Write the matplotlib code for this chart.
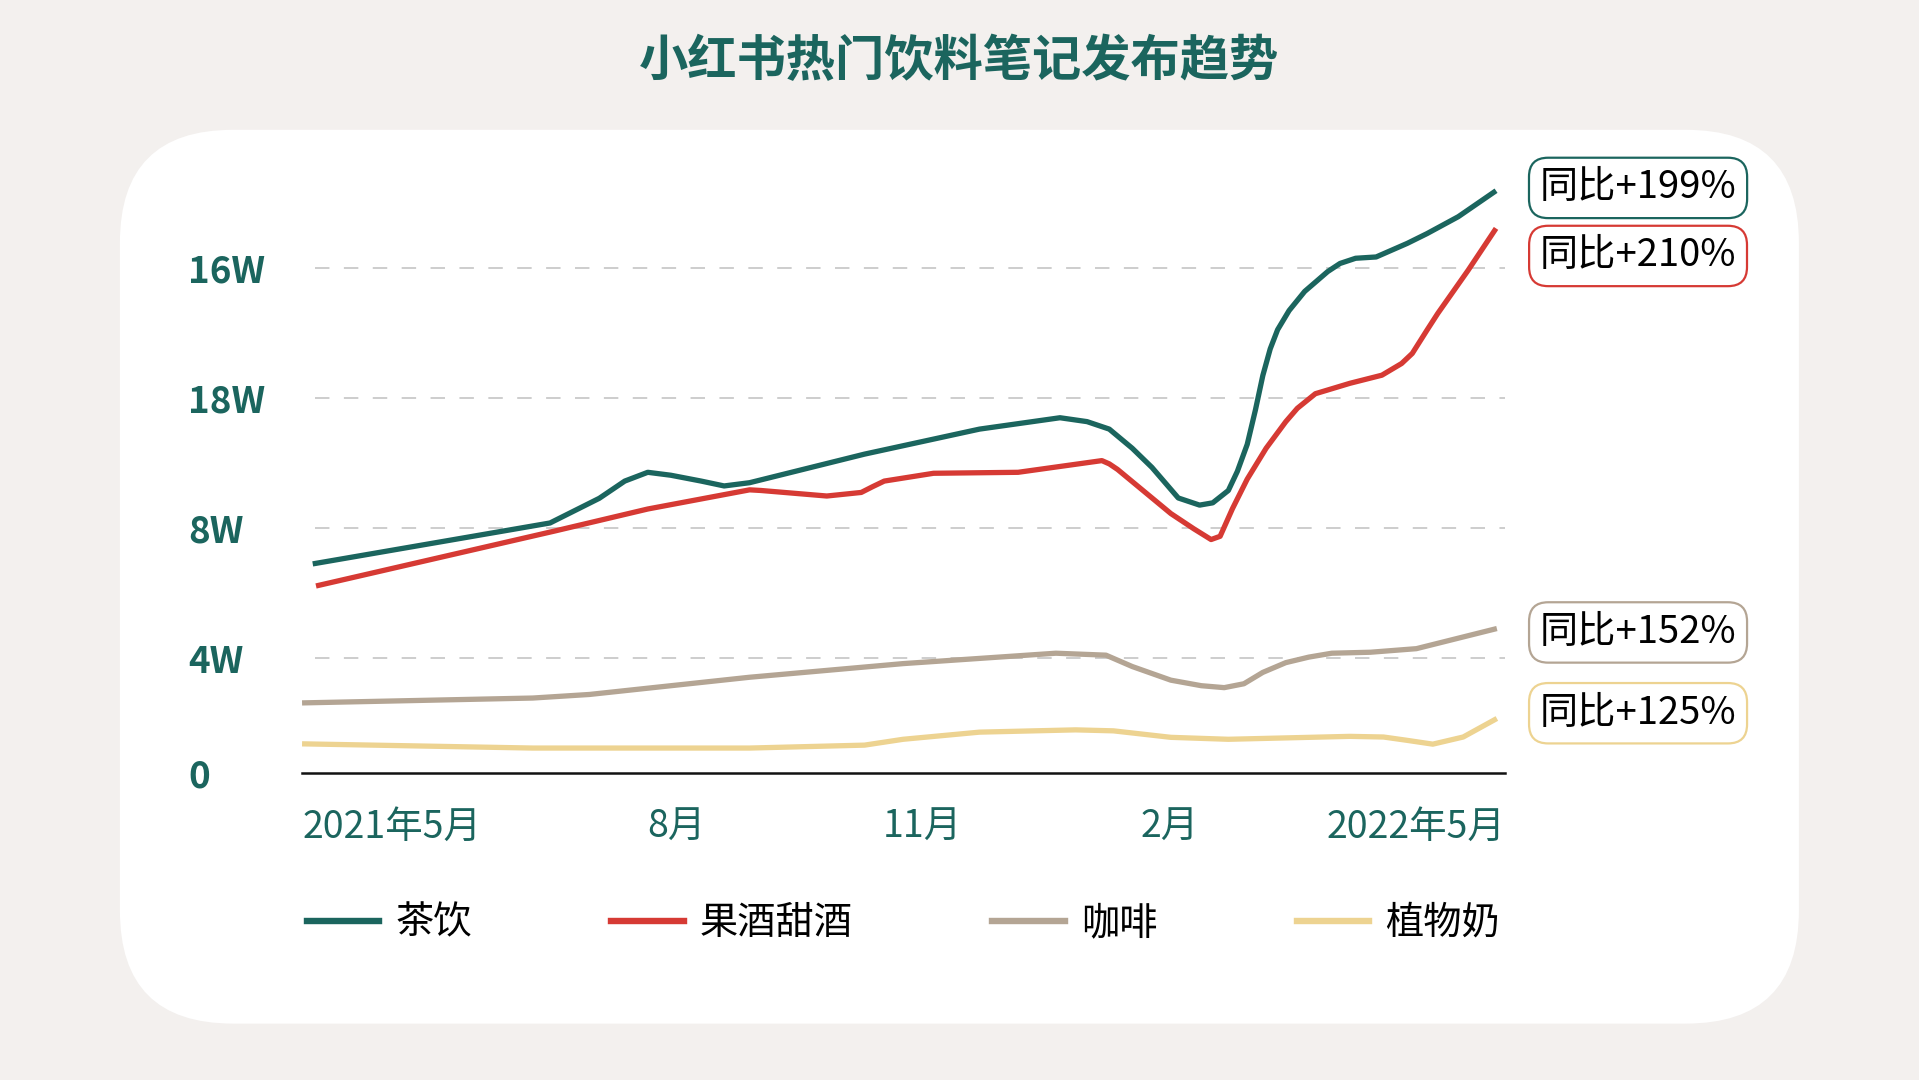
import matplotlib
matplotlib.use('Agg')
import matplotlib.pyplot as plt
from matplotlib.patches import FancyBboxPatch
from matplotlib.lines import Line2D

plt.rcParams['font.family'] = ['Noto Sans CJK SC', 'DejaVu Sans']

# Werte (x in Monaten ab 2021-05, y in W = 万)
tea_x = [-1.43, 1.46, 2.06, 2.37, 2.65, 2.93, 3.30, 3.58, 3.89, 5.29, 6.69, 7.67, 8.00,
         8.27, 8.55, 8.79, 9.11, 9.37, 9.53, 9.72, 9.83, 9.95, 10.05, 10.14, 10.23, 10.32,
         10.46, 10.65, 10.93, 11.08, 11.27, 11.52, 11.90, 12.14, 12.52, 12.98]
tea_y = [6.90, 8.16, 8.92, 9.45, 9.72, 9.63, 9.45, 9.30, 9.40, 10.28, 11.05, 11.40, 11.28,
         11.05, 10.46, 9.87, 8.93, 8.71, 8.78, 9.16, 9.75, 10.58, 11.64, 12.70, 13.52, 14.11,
         14.70, 15.29, 15.90, 16.15, 16.31, 16.35, 16.77, 17.07, 17.59, 18.39]

fruit_x = [-1.39, 1.53, 2.65, 3.89, 4.03, 4.83, 5.25, 5.39, 5.53, 6.13, 7.16, 8.18, 8.27,
           8.37, 9.02, 9.30, 9.51, 9.62, 9.77, 9.95, 10.18, 10.42, 10.56, 10.78, 11.20,
           11.59, 11.83, 11.96, 12.14, 12.27, 12.64, 12.98]
fruit_y = [6.22, 7.92, 8.59, 9.18, 9.16, 8.99, 9.10, 9.28, 9.45, 9.69, 9.72, 10.08, 9.98,
           9.81, 8.45, 7.98, 7.65, 7.75, 8.60, 9.51, 10.46, 11.28, 11.69, 12.14, 12.46,
           12.71, 13.07, 13.38, 14.10, 14.61, 15.94, 17.23]

coffee_x = [-1.56, 1.25, 1.94, 3.89, 5.76, 7.62, 8.23, 8.55, 9.02, 9.39, 9.67, 9.91, 10.14,
            10.42, 10.70, 10.98, 11.45, 12.01, 12.99]
coffee_y = [2.62, 2.77, 2.88, 3.41, 3.83, 4.15, 4.09, 3.74, 3.32, 3.15, 3.09, 3.21, 3.56,
            3.86, 4.03, 4.15, 4.18, 4.29, 4.91]

plant_x = [-1.56, 1.25, 3.89, 5.29, 5.76, 6.69, 7.86, 8.32, 9.02, 9.72, 11.20, 11.61,
           11.89, 12.21, 12.58, 12.99]
plant_y = [1.36, 1.23, 1.23, 1.32, 1.50, 1.72, 1.79, 1.76, 1.56, 1.50, 1.59, 1.57,
           1.47, 1.35, 1.57, 2.14]

names = ['茶饮', '果酒甜酒', '咖啡', '植物奶']
colors = ['#1B655E', '#D63A34', '#B4A594', '#EDD391']
yoy = ['同比+199%', '同比+210%', '同比+152%', '同比+125%']

y_ticks = [0.46, 4, 8, 12, 16]
y_labels = ['0', '4W', '8W', '18W', '16W']
x_ticks = [-1.56, 3, 6, 9, 13.09]
x_labels = ['2021年5月', '8月', '11月', '2月', '2022年5月']

teal = '#1B655E'
bg = '#F3F0EE'

fig = plt.figure(figsize=(19.19, 10.8), dpi=100, facecolor=bg)

# weisse Karte mit runden Ecken
card = FancyBboxPatch((1.199, 0.564), 16.79, 8.938,
                      boxstyle='round,pad=0,rounding_size=1.13',
                      transform=fig.dpi_scale_trans, facecolor='white',
                      edgecolor='none', zorder=-1)
fig.add_artist(card)

fig.text(0.5, 0.943, '小红书热门饮料笔记发布趋势', ha='center', va='center',
         fontsize=35.5, fontweight='heavy', color=teal)

ax = fig.add_axes([0.1574, 0.2842, 0.6269, 0.5726])
ax.patch.set_alpha(0)
ax.set_xlim(-1.56, 13.09)
ax.set_ylim(0.46, 19.5)

for yv in y_ticks[1:]:
    ax.hlines(yv, -1.40, 13.09, colors='#C9C9C9', linewidth=1.3,
              linestyles=(0, (8, 8)), zorder=1)

series = [(tea_x, tea_y), (fruit_x, fruit_y), (coffee_x, coffee_y), (plant_x, plant_y)]
for (xs, ys), c in zip(series, colors):
    ax.plot(xs, ys, color=c, linewidth=3.8, solid_joinstyle='round',
            solid_capstyle='butt', zorder=3)

for s in ['top', 'right', 'left']:
    ax.spines[s].set_visible(False)
ax.spines['bottom'].set_color('#111111')
ax.spines['bottom'].set_linewidth(1.8)
ax.spines['bottom'].set_zorder(4)

ax.set_yticks(y_ticks)
ax.set_yticklabels(y_labels, fontsize=26.5, fontweight='bold', color=teal)
for lab in ax.get_yticklabels():
    lab.set_ha('left')
ax.tick_params(axis='y', length=0, pad=82)

ax.set_xticks(x_ticks)
ax.set_xticklabels(x_labels, fontsize=27, fontweight='medium', color=teal)
xl = ax.get_xticklabels()
xl[0].set_ha('left')
xl[-1].set_ha('right')
ax.tick_params(axis='x', length=0, pad=25)

# Legende
handles = [Line2D([], [], color=c, linewidth=4.6) for c in colors]
fig.legend(handles, names, loc='center', ncol=4,
           bbox_to_anchor=(0.4708, 0.145), frameon=False,
           prop={'size': 27.5, 'weight': 'medium'}, handlelength=1.9, handletextpad=0.42,
           columnspacing=3.65, borderpad=0, borderaxespad=0)

# Jahresvergleich
box_y = [0.826, 0.763, 0.4144, 0.3396]
for txt, c, yy in zip(yoy, colors, box_y):
    fig.text(0.8536, yy, txt, ha='center', va='center', fontsize=27.5, color='black',
             bbox=dict(boxstyle='round,pad=0.28,rounding_size=0.5', facecolor='white',
                       edgecolor=c, linewidth=1.6))

fig.savefig('out.png', dpi=100, facecolor=bg)
